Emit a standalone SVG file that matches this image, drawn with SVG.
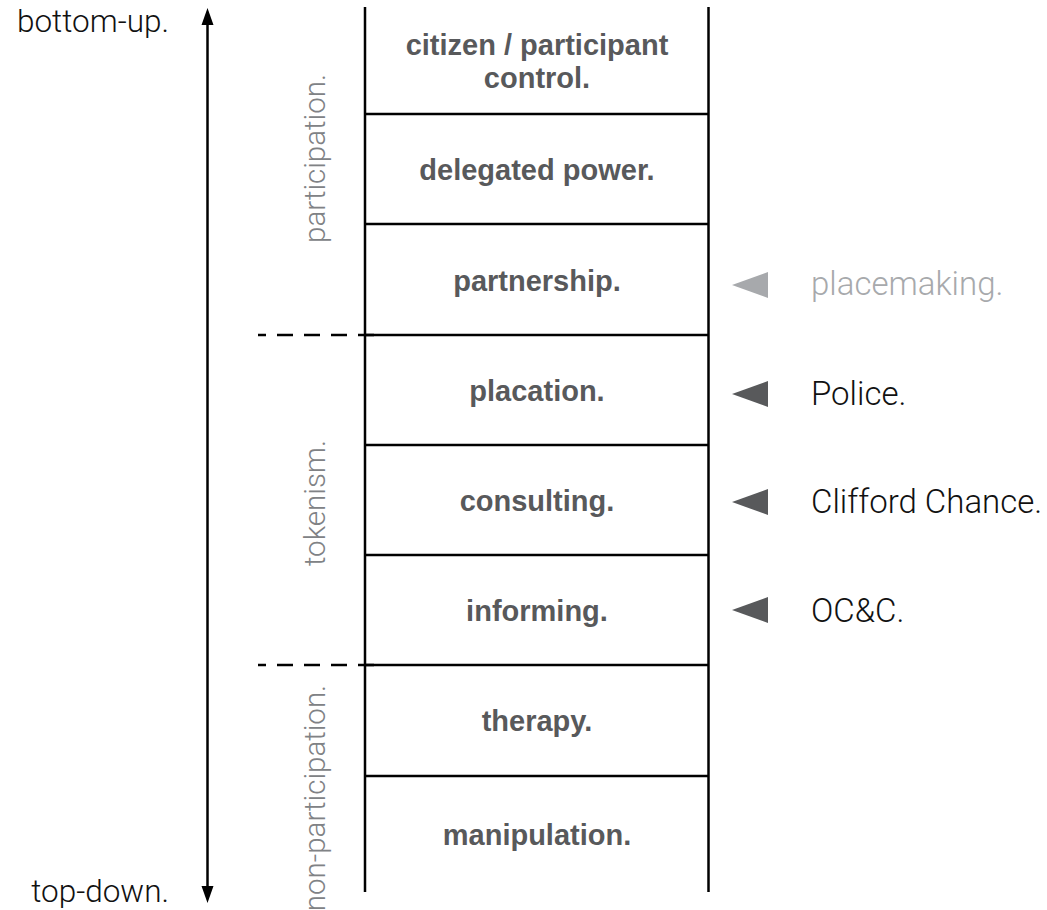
<svg xmlns="http://www.w3.org/2000/svg" width="1047" height="910" viewBox="0 0 1047 910">
<style>
.ln{stroke:#000;stroke-width:2.5;fill:none}
.dash{stroke:#000;stroke-width:2.5;stroke-dasharray:16 11;fill:none}
.rung{font-family:"Liberation Sans",Arial,sans-serif;font-weight:bold;font-size:29px;fill:#58595b;text-anchor:middle}
.side{font-family:Roboto,"Liberation Sans",sans-serif;font-weight:300;font-size:29.5px;fill:#808285;text-anchor:middle}
.end{font-family:Roboto,"Liberation Sans",sans-serif;font-weight:300;font-size:31.5px;fill:#111;text-anchor:end}
.lab{font-family:Roboto,"Liberation Sans",sans-serif;font-weight:300;font-size:33px;fill:#111}
.lab.dim{fill:#a7a9ac}
.tri{fill:#58595b}
.tri.dim{fill:#a7a9ac}
</style>
<rect width="1047" height="910" fill="#fff"/>
<g id="ladder">
<line class="ln" x1="365" y1="7" x2="365" y2="892"/>
<line class="ln" x1="708.5" y1="7" x2="708.5" y2="892"/>
<line class="ln" x1="365" y1="114" x2="708.5" y2="114"/>
<line class="ln" x1="365" y1="224" x2="708.5" y2="224"/>
<line class="ln" x1="365" y1="335" x2="708.5" y2="335"/>
<line class="ln" x1="365" y1="445" x2="708.5" y2="445"/>
<line class="ln" x1="365" y1="555" x2="708.5" y2="555"/>
<line class="ln" x1="365" y1="665" x2="708.5" y2="665"/>
<line class="ln" x1="365" y1="776" x2="708.5" y2="776"/>
<line class="dash" x1="374" y1="335" x2="258" y2="335"/>
<line class="dash" x1="374" y1="665" x2="258" y2="665"/>
</g>
<g id="rung-citizen-control"><text class="rung" x="537" y="55">citizen / participant</text><text class="rung" x="537" y="88">control.</text></g>
<g id="rung-delegated-power"><text class="rung" x="537" y="180">delegated power.</text></g>
<g id="rung-partnership"><text class="rung" x="537" y="291">partnership.</text></g>
<g id="rung-placation"><text class="rung" x="537" y="401">placation.</text></g>
<g id="rung-consulting"><text class="rung" x="537" y="511">consulting.</text></g>
<g id="rung-informing"><text class="rung" x="537" y="621">informing.</text></g>
<g id="rung-therapy"><text class="rung" x="537" y="731">therapy.</text></g>
<g id="rung-manipulation"><text class="rung" x="537" y="845">manipulation.</text></g>
<g id="group-participation"><text class="side" transform="translate(325 158.5) rotate(-90)">participation.</text></g>
<g id="group-tokenism"><text class="side" transform="translate(325 503) rotate(-90)">tokenism.</text></g>
<g id="group-non-participation"><text class="side" transform="translate(325 798) rotate(-90)">non-participation.</text></g>
<g id="axis-labels">
<text class="end" x="169" y="32">bottom-up.</text>
<text class="end" x="169" y="902">top-down.</text>
</g>
<g id="connectors">
<line class="ln" x1="207.5" y1="22" x2="207.5" y2="888" stroke-width="2"/>
<polygon points="207.5,8 201.5,25 213.5,25" fill="#000"/>
<polygon points="207.5,903 201.5,886 213.5,886" fill="#000"/>
<polygon class="tri dim" points="732,285 768,272 768,298"/>
<polygon class="tri" points="732,394 768,381 768,407"/>
<polygon class="tri" points="732,502 768,489 768,515"/>
<polygon class="tri" points="732,610 768,597 768,623"/>
</g>
<g id="label-placemaking"><text class="lab dim" x="811" y="295">placemaking.</text></g>
<g id="label-police"><text class="lab" x="811" y="405">Police.</text></g>
<g id="label-clifford-chance"><text class="lab" x="811" y="513">Clifford Chance.</text></g>
<g id="label-occ"><text class="lab" x="811" y="622">OC&amp;C.</text></g>
</svg>
